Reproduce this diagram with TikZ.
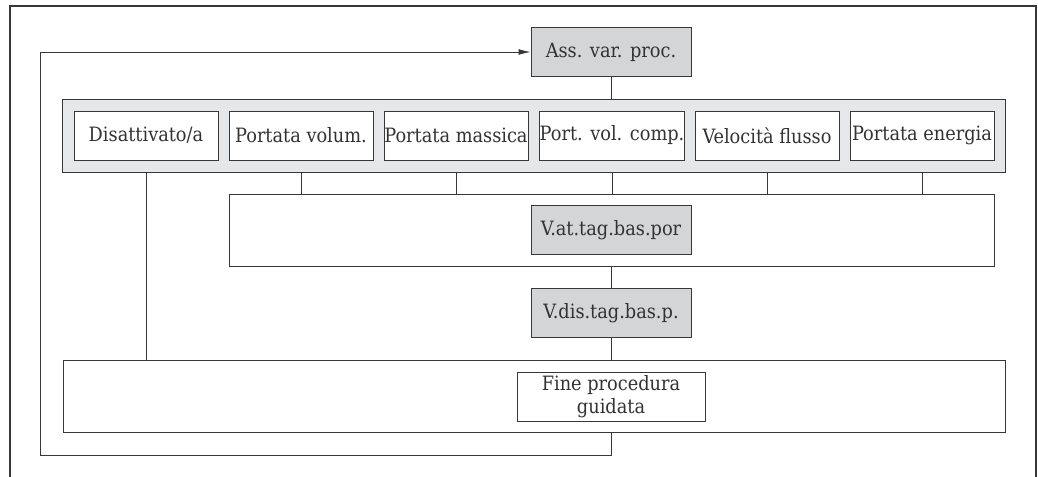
\documentclass[tikz,border=0pt]{standalone}
\usepackage{fontspec}
\setmainfont{DejaVu Serif Condensed}
\usetikzlibrary{arrows.meta}

\definecolor{lncol}{RGB}{55,55,55}
\definecolor{txtcol}{RGB}{50,50,50}
\definecolor{darkfill}{RGB}{212,213,215}
\definecolor{lightfill}{RGB}{230,231,232}

\tikzset{
  box/.style={draw=lncol, line width=0.7pt, fill=white, inner sep=0pt,
    minimum width=108pt, minimum height=36.75pt, text=txtcol,
    font=\fontsize{14.8}{17.5}\selectfont, align=center},
  param/.style={box, fill=darkfill, minimum width=120pt},
  group/.style={draw=lncol, line width=0.7pt, inner sep=0pt},
  link/.style={draw=lncol, line width=0.7pt}
}

\begin{document}
\begin{tikzpicture}[x=0.75pt, y=-0.75pt]
\useasboundingbox (0,0) rectangle (1038,477);

% Rahmen
\draw[lncol, line width=1.1pt] (10,477) -- (10,6) -- (1036,6) -- (1036,477);

% Ass. var. proc.
\node[param] (ass) at (611,52) {Ass. var. proc.};

% Auswahl
\node[group, fill=lightfill, minimum width=707.25pt, minimum height=54.75pt] (panel) at (533.5,135.5) {};
\foreach \x/\txt [count=\i] in {146/Disattivato\slash a, 301/Portata volum., 456/Portata massica,
    612/Port. vol. comp., 767/Velocità flusso, 922/Portata energia}
  \node[box] (opt\i) at (\x,135.5) {\txt};

% V.at.tag.bas.por
\node[group, minimum width=573.75pt, minimum height=54pt] (mid) at (611.5,230) {};
\node[param] (vat) at (611,230) {V.at.tag.bas.por};

% V.dis.tag.bas.p.
\node[param] (vdis) at (611,313) {V.dis.tag.bas.p.};

% Fine
\node[group, minimum width=706.5pt, minimum height=54pt] (bot) at (534,396) {};
\node[box, minimum width=141pt] (fine) at (611,396.5) {Fine procedura\\guidata};

% Verbindungen
\draw[link] (ass.south) -- (ass |- panel.north);
\foreach \i in {2,...,6}
  \draw[link] (opt\i |- panel.south) -- (opt\i |- mid.north);
\draw[link] (opt1 |- panel.south) -- (opt1 |- bot.north);
\draw[link] (vat |- mid.south) -- (vdis.north);
\draw[link] (vdis.south) -- (vdis |- bot.north);

% Rueckfuehrung
\coordinate (back) at (40,455);
\draw[link, -{Latex[length=9pt, width=4.5pt]}] (fine |- bot.south) |- (back) |- (ass.west);

\end{tikzpicture}
\end{document}
